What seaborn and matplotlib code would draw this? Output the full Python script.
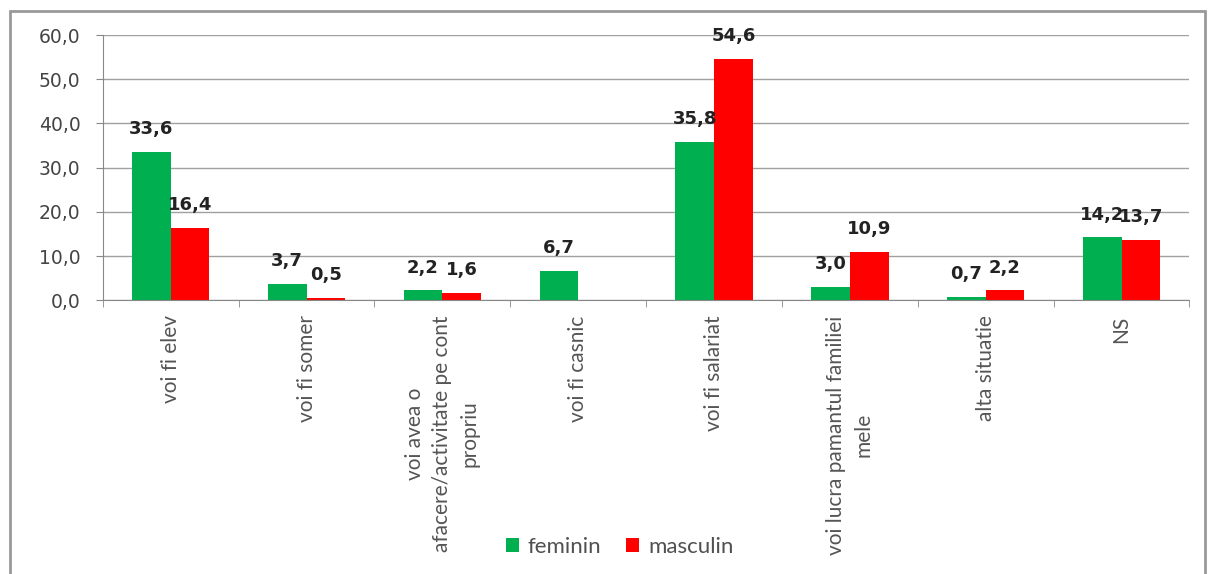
import numpy as np
import pandas as pd
import matplotlib
matplotlib.use("Agg")
import matplotlib.pyplot as plt
import seaborn as sns
from matplotlib.patches import Rectangle
from matplotlib.container import BarContainer

categorii = ["voi fi elev", "voi fi somer", "voi avea o\nafacere/activitate pe cont\npropriu",
             "voi fi casnic", "voi fi salariat", "voi lucra pamantul familiei\nmele",
             "alta situatie", "NS"]
feminin = [33.6, 3.7, 2.2, 6.7, 35.8, 3.0, 0.7, 14.2]
masculin = [16.4, 0.5, 1.6, np.nan, 54.6, 10.9, 2.2, 13.7]
yticks = [0, 10, 20, 30, 40, 50, 60]

df = pd.DataFrame({
    "categorie": categorii * 2,
    "valoare": feminin + masculin,
    "sex": ["feminin"] * len(categorii) + ["masculin"] * len(categorii),
}).dropna()

sns.set_style("white")
plt.rcParams["font.family"] = ["Lato", "DejaVu Sans"]

fig = plt.figure(figsize=(12.1, 5.74), dpi=100)
ax = fig.add_axes([0.085, 0.477, 0.898, 0.462])

sns.barplot(data=df, x="categorie", y="valoare", hue="sex", order=categorii,
            palette={"feminin": "#00B050", "masculin": "#FF0000"},
            width=0.57, saturation=1, linewidth=0, ax=ax, legend=True)

# etichete de date deasupra barelor
for cont in ax.containers:
    if not isinstance(cont, BarContainer):
        continue
    for b in cont.patches:
        if b is None or np.isnan(b.get_height()):
            continue
        h = b.get_height()
        ax.annotate(f"{h:.1f}".replace(".", ","), (b.get_x() + b.get_width() / 2, h),
                    xytext=(0, 10), textcoords="offset points", ha="center", va="bottom",
                    fontsize=13, fontweight="bold", color="#222222", family=["DejaVu Sans"])

ax.set_ylim(0, 60)
ax.set_yticks(yticks)
ax.set_yticklabels([f"{t:.1f}".replace(".", ",") for t in yticks],
                   fontsize=13.5, color="#444444", family=["DejaVu Sans"])
ax.yaxis.grid(True, color="#a0a0a0", linewidth=1)
ax.set_axisbelow(True)
ax.tick_params(axis="y", length=5, color="#888888", left=True, pad=11)

ax.set_xlim(-0.5, len(categorii) - 0.5)
ax.set_xticks(range(len(categorii)))
ax.set_xticklabels(categorii, rotation=90, fontsize=15, color="#555555",
                   va="top", ha="center", multialignment="center", linespacing=1.45)
ax.set_xticks(np.arange(-0.5, len(categorii)), minor=True)
ax.tick_params(axis="x", which="major", length=0, pad=11)
ax.tick_params(axis="x", which="minor", length=5, color="#888888", bottom=True)
ax.set_xlabel("")
ax.set_ylabel("")

for s in ["top", "right"]:
    ax.spines[s].set_visible(False)
for s in ["left", "bottom"]:
    ax.spines[s].set_color("#888888")

ax.legend_.remove()
handles, labels = ax.get_legend_handles_labels()
fig.legend(handles, labels, loc="center", bbox_to_anchor=(0.512, 0.047), ncol=2,
           frameon=False, fontsize=16, handlelength=0.6, handleheight=0.6,
           columnspacing=1.1, handletextpad=0.4, labelcolor="#505050")

fig.patches.append(Rectangle((0.008, -0.01), 0.988, 0.99, transform=fig.transFigure,
                             fill=False, edgecolor="#999999", linewidth=2))

fig.savefig("out.png", dpi=100)
